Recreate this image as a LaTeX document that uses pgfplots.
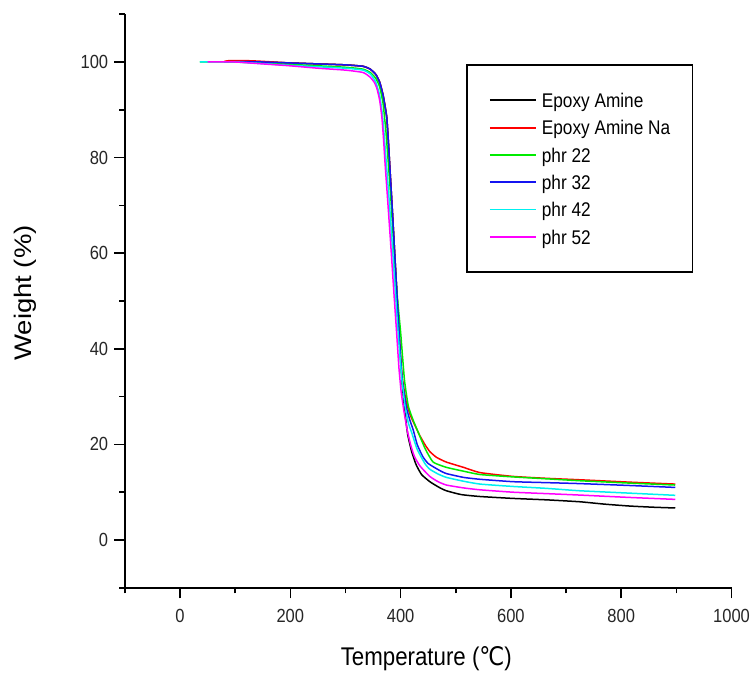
\documentclass[border=0pt]{standalone}
\usepackage{graphicx}
\usepackage{fontspec}
\setmainfont{Liberation Sans}[FakeStretch=0.87]
\newfontfamily\plainsans{Liberation Sans}
\newfontfamily\dejavu{DejaVu Sans}[FakeStretch=0.87]
\usepackage{pgfplots}
\pgfplotsset{compat=1.18}
\definecolor{cgreen}{RGB}{0,235,0}
\definecolor{cblue}{RGB}{20,20,240}
\definecolor{ccyan}{RGB}{0,240,240}
\definecolor{cmag}{RGB}{255,0,255}
\definecolor{cred}{RGB}{255,0,0}
\begin{document}
\begin{tikzpicture}
\begin{axis}[
  at={(0pt,0pt)}, anchor=south west,
  scale only axis, width=606.65pt, height=573.6pt,
  xmin=-100, xmax=1000, ymin=-10, ymax=110,
  axis lines=left, axis line style={-, line width=1.7pt, black},
  tick align=outside,
  xtick={0,200,...,1000}, minor xtick={-100,100,...,900},
  ytick={0,20,...,100}, minor ytick={-10,10,...,110},
  major tick length=10.5pt, minor tick length=5.5pt,
  every tick/.style={black, line width=1.6pt},
  /pgf/number format/assume math mode=true,
  /pgf/number format/1000 sep={},
  tick label style={font=\fontsize{19}{19}\selectfont, text=black!85},
  xticklabel style={inner sep=0pt, anchor=north, yshift=-11pt},
  yticklabel style={inner sep=0pt, anchor=east, xshift=-6pt},
  xlabel={Temperature ({\dejavu ℃})},
  xlabel style={at={(axis description cs:0.497,-0.1363)}, anchor=base, inner sep=0pt, font=\fontsize{25.6}{25.6}\selectfont},
  ylabel={\scalebox{1}[0.87]{\plainsans\fontsize{27.5}{27.5}\selectfont Weight (\%)}},
  ylabel style={at={(axis description cs:-0.1536,0.514)}, anchor=base, inner sep=0pt, rotate=0},
  every axis plot/.append style={line width=1.5pt, smooth, tension=0.3},
  legend image code/.code={\draw[#1, line width=1.9pt] (0pt,0pt) -- (46pt,0pt);},
  legend cell align=left,
  legend style={at={(axis description cs:0.564,0.9114)}, anchor=north west,
    draw, line width=1.4pt, inner xsep=22pt, inner ysep=28pt, outer sep=0pt,
    row sep=12.8pt, column sep=5pt,
    font=\fontsize{19.8}{19.8}\selectfont,
    nodes={inner sep=0pt, text height=14.5pt, text depth=0pt, text=black}},
]
\addplot[black] coordinates {
(80,100.0) (100,100.1) (150,100.0) (200,99.8) (250,99.6) (300,99.4) (332,99.1) (345,98.5) (355,97.4) (362,95.8) (368,93.2) (372,90.6) (375,88.3) (378,83) (381,77) (385,69) (390,58.5) (395,48) (399,39.7) (403,32.5) (408,26.5) (413,22) (420,18.5) (428,15.8) (438,13.7) (453,12.2) (470,11.0) (483,10.3) (510,9.5) (544,9.1) (604,8.7) (665,8.4) (725,8.0) (770,7.5) (816,7.1) (860,6.85) (898,6.7)
};
\addlegendentry{Epoxy Amine}
\addplot[cred] coordinates {
(80,100.1) (90,100.3) (130,100.25) (170,100.0) (200,99.8) (250,99.6) (300,99.4) (332,99.1) (345,98.5) (355,97.4) (362,95.8) (368,93.2) (372,90.6) (375,88.3) (378,83) (381,77) (385,69) (390,58.5) (395,48) (399,40) (403,34) (410,29) (418,26) (426,24) (435,21.8) (445,19.8) (453,18.5) (465,17.3) (483,16.3) (514,15.2) (544,14.1) (604,13.3) (665,12.9) (725,12.6) (816,12.1) (898,11.7)
};
\addlegendentry{Epoxy Amine Na}
\addplot[cgreen] coordinates {
(36,100) (100,100) (200,99.5) (300,98.9) (332,98.5) (345,97.8) (355,96.6) (362,94.8) (368,91.5) (373,86) (377,80) (382,72) (388,61) (394,51) (400,43.5) (407,33.5) (414,28) (423,25) (432,22.5) (445,19) (459,16.3) (483,15.2) (514,14.4) (544,13.7) (604,13.2) (665,12.8) (725,12.4) (816,11.9) (898,11.5)
};
\addlegendentry{phr 22}
\addplot[cblue] coordinates {
(80,100.0) (100,100.1) (150,100.0) (200,99.8) (250,99.6) (300,99.4) (332,99.1) (345,98.5) (355,97.4) (362,95.8) (368,93.2) (372,90.6) (375,88.3) (378,83) (381,77) (385,69) (390,58.5) (395,48) (399,39.9) (403,33.5) (410,28) (417,25) (423,23) (430,20) (440,17.5) (450,16) (470,14.6) (483,13.9) (514,13.1) (544,12.7) (604,12.2) (665,12.0) (725,11.8) (816,11.4) (898,11.0)
};
\addlegendentry{phr 32}
\addplot[ccyan] coordinates {
(36,100) (100,100) (200,99.3) (300,98.7) (332,98.3) (345,97.5) (355,95.8) (362,93) (367,89) (371,83.5) (375,77.5) (380,70) (387,58) (393,47.5) (397,41) (402,34) (408,28) (414,24.5) (420,22.5) (430,19) (444,16) (453,14.8) (468,13.8) (483,13.1) (514,12.3) (544,11.7) (604,11.2) (665,10.8) (725,10.3) (816,9.8) (898,9.35)
};
\addlegendentry{phr 42}
\addplot[cmag] coordinates {
(50,100) (100,100) (150,99.6) (200,99.2) (250,98.7) (300,98.3) (332,97.8) (345,96.8) (352,95.8) (357,94.5) (362,92) (366,88.5) (369,84) (372,78.5) (376,72) (382,62) (388,51.5) (393,43) (397,36) (401,31) (406,27) (412,23) (418,20) (425,17.5) (435,15.5) (453,13.3) (468,12.2) (483,11.5) (514,10.9) (544,10.5) (604,10.0) (665,9.7) (725,9.4) (816,8.9) (898,8.5)
};
\addlegendentry{phr 52}
\end{axis}
\pgfresetboundingbox
\path (-124.85pt,-85.2pt) rectangle (629.15pt,587.8pt);
\end{tikzpicture}
\end{document}
